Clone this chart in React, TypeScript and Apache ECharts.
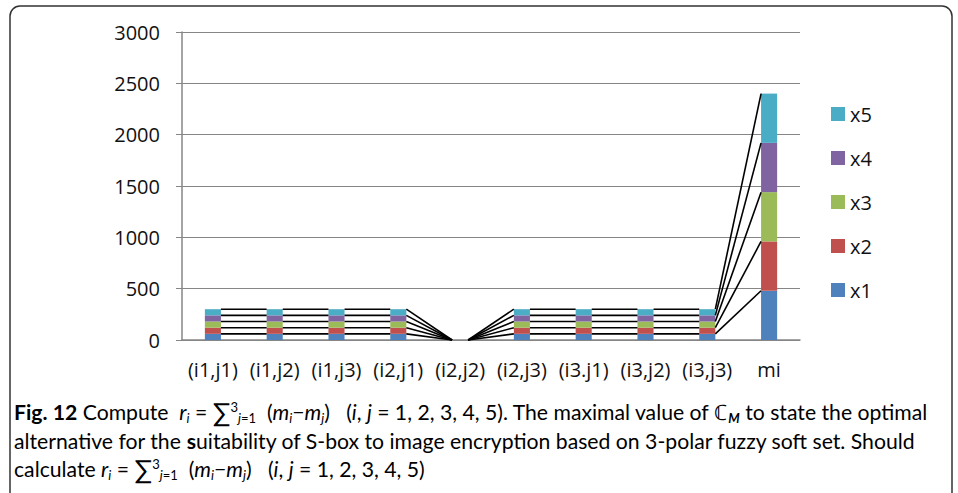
import React, { useEffect, useRef } from "react";
import * as echarts from "echarts";

const categories = ["(i1,j1)", "(i1,j2)", "(i1,j3)", "(i2,j1)", "(i2,j2)", "(i2,j3)", "(i3.j1)", "(i3,j2)", "(i3,j3)", "mi"];
const seriesNames = ["x1", "x2", "x3", "x4", "x5"];
const x1 = [60, 60, 60, 60, 0, 60, 60, 60, 60, 480];
const x2 = [60, 60, 60, 60, 0, 60, 60, 60, 60, 480];
const x3 = [60, 60, 60, 60, 0, 60, 60, 60, 60, 480];
const x4 = [60, 60, 60, 60, 0, 60, 60, 60, 60, 480];
const x5 = [60, 60, 60, 60, 0, 60, 60, 60, 60, 480];
const seriesValues = [x1, x2, x3, x4, x5];
const colors = ["#4F81BD", "#C0504D", "#9BBB59", "#8064A2", "#4BACC6"];
const yTicks = [0, 500, 1000, 1500, 2000, 2500, 3000];

const BAR_FRAC = 0.26;
const FONT = "'Open Sans', sans-serif";
const CAP_FONT = "Lato, 'Open Sans', sans-serif";

export default function App() {
  const ref = useRef<HTMLDivElement>(null);
  useEffect(() => {
    if (!ref.current) return;
    const chart = echarts.init(ref.current, null, { renderer: "svg" });

    const F = 21.2;
    const S = 13;
    const capRich = {
      n: { fontSize: F, fontFamily: CAP_FONT, color: "#222" },
      b: { fontSize: F, fontFamily: CAP_FONT, color: "#222", fontWeight: "bold" },
      it: { fontSize: F, fontFamily: CAP_FONT, color: "#222", fontStyle: "italic" },
      s: { fontSize: S, fontFamily: CAP_FONT, color: "#222", fontStyle: "italic", padding: [11, 0, 0, 0] },
      sn: { fontSize: S, fontFamily: CAP_FONT, color: "#222", padding: [11, 0, 0, 0] },
      sup: { fontSize: S, fontFamily: CAP_FONT, color: "#222", padding: [0, 0, 11, 0] },
      sb: { fontSize: S, fontFamily: CAP_FONT, color: "#222", fontStyle: "italic", fontWeight: "bold", padding: [11, 0, 0, 0] },
      big: { fontSize: 26, fontFamily: CAP_FONT, color: "#222" },
    };
    const formula = "{it|r}{s|i}{n| = }{big|∑}{sup|3}{s|j}{sn|=1}{n|  (}{it|m}{s|i}{n|−}{it|m}{s|j}{n|)   (}{it|i}{n|, }{it|j}{n| = 1, 2, 3, 4, 5)}";
    const line1 = "{b|Fig. 12}{n| Compute  }" + formula + "{n|. The maximal value of ℂ}{sb|M}{n| to state the optimal}";
    const line2 = "{n|alternative for the }{b|s}{n|uitability of S-box to image encryption based on 3-polar fuzzy soft set. Should}";
    const line3 = "{n|calculate }" + formula;

    chart.setOption({
      animation: false,
      color: colors,
      grid: { left: 182, right: 158, top: 32, bottom: 153, containLabel: false },
      legend: {
        data: ["x5", "x4", "x3", "x2", "x1"],
        orient: "vertical",
        left: 826,
        top: 99,
        itemWidth: 14,
        itemHeight: 14,
        itemGap: 24,
        icon: "rect",
        textStyle: { fontSize: 20, fontFamily: FONT, color: "#111", padding: [0, 0, 0, 0] },
      },
      xAxis: {
        type: "category",
        data: categories,
        axisLine: { lineStyle: { color: "#868686", width: 1.5 } },
        axisTick: { show: false },
        axisLabel: { interval: 0, fontSize: 20, fontFamily: FONT, color: "#111", margin: 19 },
      },
      yAxis: {
        type: "value",
        min: yTicks[0],
        max: yTicks[yTicks.length - 1],
        interval: 500,
        axisLine: { show: true, lineStyle: { color: "#868686", width: 1.5 } },
        axisTick: { show: true, length: 6, lineStyle: { color: "#868686" } },
        axisLabel: { fontSize: 20, fontFamily: FONT, color: "#111", margin: 22, formatter: (v: number) => String(v) },
        splitLine: { lineStyle: { color: "#868686", width: 1.2 } },
      },
      series: [
        ...seriesNames.map((name, k) => ({
          name,
          type: "bar",
          stack: "total",
          barWidth: BAR_FRAC * 100 + "%",
          data: seriesValues[k],
          itemStyle: { color: colors[k] },
        })),
        {
          type: "custom",
          name: "series-lines",
          z: 3,
          data: categories.slice(0, -1).map((_, i) => [i, 0]),
          encode: { x: 0, y: 1 },
          renderItem: (params: any, api: any) => {
            const i = api.value(0);
            const bw = api.size([1, 0])[0] * BAR_FRAC;
            const children: any[] = [];
            let c0 = 0;
            let c1 = 0;
            for (let k = 0; k < seriesValues.length; k++) {
              c0 += seriesValues[k][i];
              c1 += seriesValues[k][i + 1];
              const p0 = api.coord([i, c0]);
              const p1 = api.coord([i + 1, c1]);
              children.push({
                type: "line",
                shape: { x1: p0[0] + bw / 2, y1: p0[1], x2: p1[0] - bw / 2, y2: p1[1] },
                style: { stroke: "#000", lineWidth: 1.6 },
              });
            }
            return { type: "group", children };
          },
        },
      ],
      graphic: [
        {
          type: "rect",
          shape: { x: 10, y: 6, width: 942, height: 520, r: 10 },
          style: { fill: "none", stroke: "#333", lineWidth: 1.5 },
          silent: true,
        },
        { type: "text", x: 14, y: 412, style: { text: line1, rich: capRich, verticalAlign: "middle" } },
        { type: "text", x: 14, y: 441, style: { text: line2, rich: capRich, verticalAlign: "middle" } },
        { type: "text", x: 14, y: 469, style: { text: line3, rich: capRich, verticalAlign: "middle" } },
      ],
    });
    return () => chart.dispose();
  }, []);
  return <div ref={ref} style={{ position: "fixed", left: 0, top: 0, width: 958, height: 493, background: "#fff" }} />;
}
